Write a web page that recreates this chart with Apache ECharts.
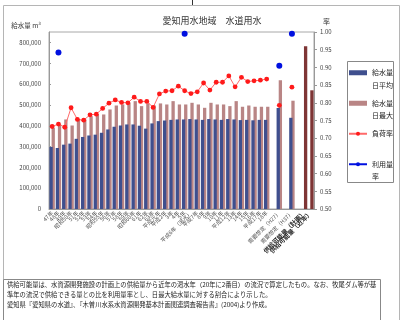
<!DOCTYPE html>
<html>
<head>
<meta charset="utf-8">
<script src="https://cdn.jsdelivr.net/npm/echarts@6/dist/echarts.min.js"></script>
<style>
  html, body { margin: 0; padding: 0; background: #fff; }
  #chart { width: 405px; height: 320px; }
</style>
</head>
<body>
<div id="chart"></div>
<script>
// Fiscal years (Showa 47 .. Heisei 18), then projections and supply capacity
const categories = [
  '47年', '48年', '49年', '昭和50年', '51年', '52年', '53年', '54年', '昭和55年', '56年',
  '57年', '58年', '59年', '昭和60年', '61年', '62年', '63年', '平成元年', '平成2年', '3年',
  '4年', '5年', '平成6年（渇水）', '平成7年', '8年', '9年', '10年', '11年', '平成12年', '13年',
  '14年', '15年', '16年', '平成17年', '18年', '',
  '需要想定（H27）', '', '需要想定（H37）', '',
  '供給可能量（計画）', '供給可能量（近年）'
];

// Daily average supply (m3/day)
const dailyAverage = [
  298000, 293000, 309000, 314000, 337000, 346000, 353000, 357000, 366000, 382000,
  395000, 401000, 406000, 406000, 400000, 386000, 411000, 422000, 425000, 428000,
  430000, 430000, 432000, 430000, 428000, 432000, 430000, 428000, 432000, 430000,
  427000, 428000, 426000, 428000, 428000, null,
  485000, null, 438000, null, null, null
];

// Daily maximum supply (m3/day); last two entries are supply capacity
const dailyMaximum = [
  390000, 406000, 430000, 401000, 433000, 430000, 446000, 454000, 454000, 478000,
  497000, 502000, 510000, 518000, 494000, 507000, 497000, 507000, 502000, 518000,
  502000, 502000, 510000, 502000, 486000, 510000, 502000, 502000, 494000, 518000,
  491000, 497000, 491000, 491000, 491000, null,
  618000, null, 520000, null, 782000, 570000
];

// Load factor (average / maximum)
const loadFactor = [
  0.733, 0.740, 0.731, 0.786, 0.753, 0.751, 0.766, 0.768, 0.784, 0.799,
  0.808, 0.801, 0.800, 0.816, 0.804, 0.804, 0.787, 0.825, 0.833, 0.834,
  0.847, 0.834, 0.826, 0.831, 0.856, 0.836, 0.858, 0.858, 0.876, 0.845,
  0.872, 0.860, 0.862, 0.864, 0.867, null,
  0.793, null, 0.844, null, null, null
];

// Usage ratio
const usageRatio = [
  null, 0.942, null, null, null, null, null, null, null, null,
  null, null, null, null, null, null, null, null, null, null,
  null, 0.995, null, null, null, null, null, null, null, null,
  null, null, null, null, null, null,
  0.905, null, 0.995, null, null, null
];

// Legend labels: a blank line on top keeps each icon level with the first text line
const legendText = {
  '給水量日平均': ' \n給水量\n日平均',
  '給水量日最大': ' \n給水量\n日最大',
  '負荷率': ' \n負荷率\n ',
  '利用量率': ' \n利用量\n率'
};

const noteLines = [
  '供給可能量は、水資源開発施設の計画上の供給量から近年の渇水年（20年に2番目）の流況で算定したもの。なお、牧尾ダム等が基',
  '準年の流況で供給できる量との比を利用量率とし、日最大給水量に対する割合により示した。',
  '愛知県『愛知県の水道』、『木曽川水系水資源開発基本計画関連調査報告書』(2004)より作成。'
];

const FONT = '"Noto Sans CJK JP", "Noto Sans", sans-serif';
const capacityIdx = [40, 41];

const xData = categories.map((c, i) =>
  capacityIdx.includes(i)
    ? { value: c, textStyle: { fontWeight: 'bold', color: '#222', fontSize: 6.3 } }
    : c
);

const maxData = dailyMaximum.map((v, i) =>
  capacityIdx.includes(i) && v != null
    ? { value: v, itemStyle: { color: '#7e3535' } }
    : v
);

const chart = echarts.init(document.getElementById('chart'), null, { renderer: 'canvas' });

chart.setOption({
  animation: false,
  backgroundColor: '#fff',
  textStyle: { fontFamily: FONT },
  title: {
    text: '愛知用水地域　水道用水',
    left: 207,
    top: 11,
    textAlign: 'center',
    textStyle: { fontSize: 9, fontWeight: 'normal', color: '#333', fontFamily: FONT }
  },
  grid: {
    left: 49, right: 91, top: 32, bottom: 111,
    show: true, borderColor: '#a8a8a8', borderWidth: 1, backgroundColor: 'transparent'
  },
  legend: {
    orient: 'vertical',
    left: 348,
    top: 54,
    padding: 0,
    itemGap: -7,
    itemWidth: 18,
    itemHeight: 5,
    formatter: name => legendText[name],
    textStyle: { fontSize: 7, lineHeight: 12.5, color: '#222', fontFamily: FONT },
    data: [
      { name: '給水量日平均', icon: 'rect' },
      { name: '給水量日最大', icon: 'rect' },
      { name: '負荷率' },
      { name: '利用量率' }
    ]
  },
  xAxis: {
    type: 'category',
    data: xData,
    axisLine: { lineStyle: { color: '#999' } },
    axisTick: { show: false },
    axisLabel: { rotate: 45, interval: 0, fontSize: 5.5, color: '#555', margin: 3, fontFamily: FONT }
  },
  yAxis: [
    {
      type: 'value',
      min: 0, max: 850000, interval: 100000,
      name: '給水量 m³',
      nameLocation: 'end',
      nameGap: 3,
      nameTextStyle: { fontSize: 6.5, color: '#333', align: 'right', padding: [0, 8, 0, 0], fontFamily: FONT },
      axisLine: { show: true, lineStyle: { color: '#999' } },
      axisTick: { show: true, inside: true, length: 2, lineStyle: { color: '#999' } },
      splitLine: { show: false },
      axisLabel: {
        fontSize: 6, color: '#444', margin: 8, showMaxLabel: false,
        formatter: v => v.toLocaleString('en-US')
      }
    },
    {
      type: 'value',
      min: 0.5, max: 1.0, interval: 0.05,
      position: 'right',
      name: '率',
      nameLocation: 'end',
      nameGap: 7,
      nameTextStyle: { fontSize: 7, color: '#333', align: 'left', padding: [0, 0, 0, 9], fontFamily: FONT },
      axisLine: { show: true, lineStyle: { color: '#999' } },
      axisTick: { show: true, length: 3, lineStyle: { color: '#999' } },
      splitLine: { show: false },
      axisLabel: { fontSize: 6, color: '#444', margin: 6, formatter: v => v.toFixed(2) }
    }
  ],
  series: [
    {
      name: '給水量日平均',
      type: 'bar',
      data: dailyAverage,
      barWidth: 3.3,
      barGap: '-35%',
      z: 3,
      itemStyle: { color: '#3f4f8e' }
    },
    {
      name: '給水量日最大',
      type: 'bar',
      data: maxData,
      barWidth: 3.3,
      barGap: '-35%',
      z: 2,
      itemStyle: { color: '#b98585' }
    },
    {
      name: '負荷率',
      type: 'line',
      yAxisIndex: 1,
      data: loadFactor,
      connectNulls: false,
      symbol: 'circle',
      symbolSize: 4.8,
      z: 5,
      itemStyle: { color: '#ff1a1a' },
      lineStyle: { width: 1, color: '#ff6a6a' }
    },
    {
      name: '利用量率',
      type: 'line',
      yAxisIndex: 1,
      data: usageRatio,
      connectNulls: false,
      symbol: 'circle',
      symbolSize: 6,
      clip: false,
      z: 6,
      itemStyle: { color: '#0010e0' },
      lineStyle: { width: 1.5, color: '#0010e0' }
    }
  ],
  graphic: [
    { type: 'rect', shape: { x: 3.5, y: 5.5, width: 396, height: 330 }, style: { fill: null, stroke: '#b5b5b5', lineWidth: 1 }, silent: true, z: -1 },
    { type: 'line', shape: { x1: 192.5, y1: 0, x2: 192.5, y2: 5 }, style: { stroke: '#333', lineWidth: 1 }, silent: true },
    { type: 'rect', shape: { x: 347.5, y: 61.5, width: 46, height: 121 }, style: { fill: null, stroke: '#888', lineWidth: 1 }, silent: true },
    { type: 'rect', shape: { x: 3.5, y: 279.5, width: 377, height: 50 }, style: { fill: '#fff', stroke: '#888', lineWidth: 1 }, silent: true },
    {
      type: 'group', left: 7, top: 281, silent: true,
      children: noteLines.map((t, i) => ({
        type: 'text', x: 0, y: i * 10,
        style: { text: t, fontSize: 6.3, fill: '#222', fontFamily: FONT }
      }))
    }
  ]
});
</script>
</body>
</html>
